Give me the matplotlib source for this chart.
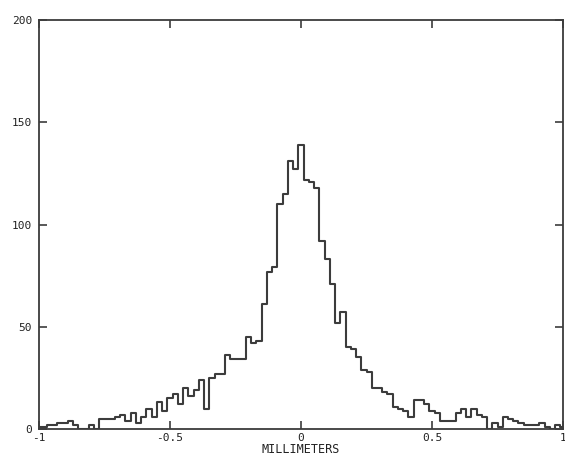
import numpy as np
import matplotlib
matplotlib.use("Agg")
import matplotlib.pyplot as plt

# Histogram of positional error, bins 0.02 mm wide centred on multiples of 0.02
bin_centers = np.round(np.arange(-1.0, 1.0001, 0.02), 2)
counts = [
    1, 1, 2, 2, 3, 3, 4, 2, 0, 0,          # -1.00 .. -0.82
    2, 0, 5, 5, 5, 6, 7, 4, 8, 3,          # -0.80 .. -0.62
    6, 10, 6, 13, 9, 15, 17, 12, 20, 16,   # -0.60 .. -0.42
    19, 24, 10, 25, 27, 27, 36, 34, 34, 34,  # -0.40 .. -0.22
    45, 42, 43, 61, 77, 79, 110, 115, 131, 127,  # -0.20 .. -0.02
    139,                                   # 0.00
    122, 121, 118, 92, 83, 71, 52, 57, 40, 39,   # 0.02 .. 0.20
    35, 29, 28, 20, 20, 18, 17, 11, 10, 9,       # 0.22 .. 0.40
    6, 14, 14, 12, 9, 8, 4, 4, 4, 8,             # 0.42 .. 0.60
    10, 6, 10, 7, 6, 0, 3, 1, 6, 5,             # 0.62 .. 0.80
    4, 3, 2, 2, 2, 3, 1, 0, 2, 1,               # 0.82 .. 1.00
]

x_ticks = [-1, -0.5, 0, 0.5, 1]
x_tick_labels = ["-1", "-0.5", "0", "0.5", "1"]
y_ticks = [0, 50, 100, 150, 200]
y_tick_labels = ["0", "50", "100", "150", "200"]
x_label = "MILLIMETERS"

ink = "#3c3c3c"
mono = ["DejaVu Sans Mono"]

fig = plt.figure(figsize=(5.65, 4.62), dpi=100)
ax = fig.add_axes([0.069, 0.0714, 0.9275, 0.8853])

# step outline of the histogram
edges = np.concatenate([bin_centers - 0.01, [bin_centers[-1] + 0.01]])
vals = np.concatenate([counts, [counts[-1]]])
ax.step(edges, vals, where="post", color=ink, lw=1.5, clip_on=True)

ax.set_xlim(-1, 1)
ax.set_ylim(0, 200)

for s in ax.spines.values():
    s.set_color(ink)
    s.set_linewidth(1.3)

ax.set_xticks(x_ticks)
ax.set_xticklabels(x_tick_labels, family=mono, fontsize=8, color="#222222")
ax.set_yticks(y_ticks)
ax.set_yticklabels(y_tick_labels, family=mono, fontsize=8, color="#222222")
ax.tick_params(axis="both", direction="in", length=6, width=1.2, color=ink,
               top=True, right=True, pad=3)
ax.tick_params(axis="y", pad=5)
ax.set_xlabel(x_label, family=mono, fontsize=8.5, color="#222222", labelpad=0)

fig.savefig("out.png", dpi=100)
